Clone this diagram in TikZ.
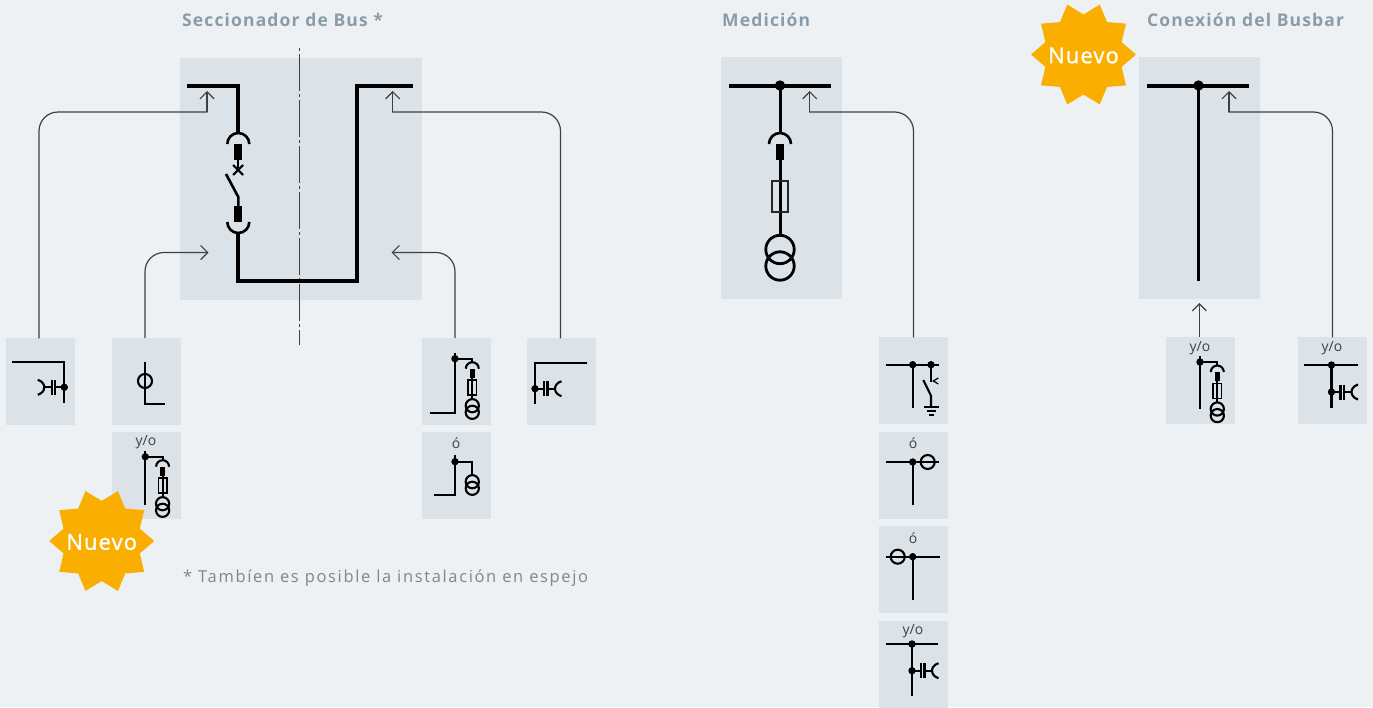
\documentclass[tikz,border=0pt]{standalone}
\usepackage{fontspec}
\setmainfont{Open Sans}
\usetikzlibrary{arrows.meta, shapes.geometric}
\definecolor{pagebg}{HTML}{EDF1F4}
\definecolor{panelbg}{HTML}{DBE2E8}
\definecolor{headcol}{HTML}{8B9CA9}
\definecolor{notecol}{HTML}{7D878F}
\definecolor{burstcol}{HTML}{FAAF00}
\tikzset{
  mainpanel/.style={fill=panelbg, minimum width=121, minimum height=242, inner sep=0},
  smallpanel/.style={fill=panelbg, minimum width=69, minimum height=87, inner sep=0},
  head/.style={anchor=west, inner sep=0, text=headcol, font=\fontsize{17.5}{18}\selectfont\bfseries\addfontfeatures{LetterSpace=6.5}},
  yolabel/.style={inner sep=0, text=black!75, font=\fontsize{14}{15}\selectfont},
  burst/.style={star, star points=10, star point ratio=1.31, shape border rotate=18,
    minimum size=105, inner sep=0, fill=burstcol},
  bursttext/.style={inner sep=0, text=white, font=\fontsize{22}{24}\selectfont\addfontfeatures{LetterSpace=5, FakeBold=1.2}},
  busline/.style={line width=4, line cap=butt, line join=miter},
  feeder/.style={line width=2.6},
  wire/.style={line width=2.1},
  axisline/.style={draw=black!75, line width=1.4, dash pattern=on 37pt off 3pt on 3pt off 3pt, dash phase=40pt},
  linkbody/.style={draw=black!75, line width=1.2, line cap=rect, rounded corners=19},
  link/.style={draw=black!75, line width=1.2, -{Straight Barb[length=7,width=14,line width=1.2]}},
  pics/plug/.style={code={
    \draw[feeder] (-11,11) arc[start angle=180, end angle=360, radius=11];
    \fill (-4,11) rectangle (4,27);
  }},
  pics/capbank/.style={code={
    \fill (0,0) circle (3.7);
    \draw[wire] (0,0) -- (9,0) (12,0) -- (20,0);
    \draw[wire] (9,-7.5) -- (9,7.5) (12.5,-7.5) -- (12.5,7.5);
    \draw[wire] (26.5,-7.5) .. controls (22,-6) and (20,-3) .. (20,0) .. controls (20,3) and (22,6) .. (26.5,7.5);
  }},
  pics/twocoil/.style={code={
    \draw[wire] (0,0) circle (6.6) (0,6.6) circle (6.6);
  }},
  pics/fusedvt/.style={code={
    \fill (0,0) circle (3.7);
    \draw[wire] (0,0) -- (17.3,0) -- (17.3,4);
    \draw[wire] (10.8,10) arc[start angle=180, end angle=360, radius=6.5];
    \fill (15,10) rectangle (19.6,19);
    \draw[wire] (17.3,19) -- (17.3,40);
    \draw[line width=1.5] (13,21.5) rectangle (21.6,36.5);
    \pic at (17.3,47) {twocoil};
  }}
}
\begin{document}
\begin{tikzpicture}[x=1pt, y=-1pt]
\useasboundingbox[fill=pagebg] (0,0) rectangle (1373,707);

\node[mainpanel, minimum width=242] (swpanel) at (301,179) {};
\node[mainpanel] (mepanel) at (781.5,178) {};
\node[mainpanel] (bbpanel) at (1199.5,178) {};

\node[smallpanel] (bsA) at (40.5,381.5) {};
\node[smallpanel] (bsB) at (146.5,381.5) {};
\node[smallpanel] (bsC) at (146.5,475.5) {};
\node[smallpanel] (bsD) at (456.5,381.5) {};
\node[smallpanel] (bsE) at (456.5,475.5) {};
\node[smallpanel] (bsF) at (561.5,381.5) {};
\node[smallpanel] (meA) at (913.5,380.5) {};
\node[smallpanel] (meB) at (913.5,475.5) {};
\node[smallpanel] (meC) at (913.5,569.5) {};
\node[smallpanel] (meD) at (913.5,664.5) {};
\node[smallpanel] (bbA) at (1200.5,380.5) {};
\node[smallpanel] (bbB) at (1332.5,380.5) {};

\node[head] (bshead) at (182,20) {Seccionador de Bus *};
\node[head] (mehead) at (722,20) {Medición};
\node[head] (bbhead) at (1147,20) {Conexión del Busbar};
\node[anchor=west, inner sep=0, text=notecol, font=\fontsize{16.5}{18}\selectfont\addfontfeatures{LetterSpace=10}] (bsnote) at (183,578) {* Tambíen es posible la instalación en espejo};

\node[yolabel] (yoC) at (146,442) {y/o};
\node[yolabel] (oE) at (456,443) {ó};
\node[yolabel] (oB) at (913,443) {ó};
\node[yolabel] (oC) at (913,538) {ó};
\node[yolabel] (yoD) at (913,631) {y/o};
\node[yolabel] (yoA) at (1200,348) {y/o};
\node[yolabel] (yoB) at (1332,348) {y/o};

\draw[axisline] (299.7,48) -- (299.7,345);

\draw[busline] (187,86) -- (238.3,86) -- (238.3,133);
\pic at (238.3,133) {plug};
\draw[wire] (238.3,160) -- (238.3,170);
\draw[wire] (233.2,165) -- (243.2,175) (243.2,165) -- (233.2,175);
\draw[feeder] (226,174) -- (238.3,197) -- (238.3,207);
\pic[yscale=-1] at (238.3,233) {plug};
\draw[busline] (238.3,232) -- (238.3,281) -- (357.3,281) -- (357.3,86) -- (412.7,86);

\draw[busline] (729,85.5) -- (831,85.5);
\fill (780,85.5) circle (5.2);
\draw[feeder, line width=3] (780,85.5) -- (780,133);
\pic at (780,133) {plug};
\draw[feeder, line width=3] (780,158) -- (780,234);
\draw[black!85, line width=1.9] (771.8,181) rectangle (788.2,212.3);
\draw[line width=2.8] (780,249.5) circle (14.2) (780,266) circle (14.2);

\draw[busline] (1147,85.5) -- (1249,85.5);
\fill (1198.5,85.5) circle (5.2);
\draw[feeder, line width=3.2] (1198.5,85.5) -- (1198.5,281);

\coordinate (tipA) at (207,91);
\coordinate (kneeA) at (207,112);
\coordinate (tipB) at (208.5,252.5);
\coordinate (tipD) at (391.5,252.5);
\coordinate (tipF) at (392.7,91);
\coordinate (kneeF) at (392.7,112);
\coordinate (tipM) at (809.7,91);
\coordinate (kneeM) at (809.7,112);
\coordinate (tipN) at (1229,91);
\coordinate (kneeN) at (1229,112);
\coordinate (tipO) at (1199.3,303);

\draw[linkbody] ([xshift=-1.5]bsA.north) |- (kneeA);
\draw[link] (kneeA) -- (tipA);
\draw[link, rounded corners=19] ([xshift=-1.5]bsB.north) |- (tipB);
\draw[link, rounded corners=19] ([xshift=-1.5]bsD.north) |- (tipD);
\draw[linkbody] ([xshift=-1]bsF.north) |- (kneeF);
\draw[link] (kneeF) -- (tipF);
\draw[linkbody] (meA.north) |- (kneeM);
\draw[link] (kneeM) -- (tipM);
\draw[linkbody] (bbB.north) |- (kneeN);
\draw[link] (kneeN) -- (tipN);
\draw[link] ([xshift=-1.2]bbA.north) -- (tipO);

\draw[wire] (12,362) -- (64.3,362) -- (64.3,402.7);
\pic[xscale=-1] at (64.3,387.3) {capbank};

\draw[wire] (145,361.7) -- (145,404) -- (165.3,404);
\draw[wire] (145,381) circle (7);

\draw[wire] (145.3,450.7) -- (145.3,504.7);
\pic at (145.3,456.7) {fusedvt};

\draw[wire] (455,352.7) -- (455,412.7) -- (430.3,412.7);
\pic at (455,358.7) {fusedvt};

\draw[wire] (455,454.7) -- (455,495) -- (434,495);
\fill (455,461.7) circle (3.7);
\draw[wire] (455,461.7) -- (472.3,461.7) -- (472.3,475);
\pic at (472.3,481.7) {twocoil};

\draw[wire] (587.3,363.3) -- (535,363.3) -- (535,404);
\pic at (535,388.7) {capbank};

\draw[wire] (886,364.7) -- (939.3,364.7) (912.7,364.7) -- (912.7,408.3) (931,364.7) -- (931,381.7);
\fill (912.7,364.7) circle (3.7) (931,364.7) circle (3.7);
\draw[wire] (923.3,380) -- (931,395.7) -- (931,406.7);
\draw[line width=1.2] (938.3,378) -- (933.3,381) -- (938.3,384);
\draw[wire] (924,406.7) -- (939.3,406.7);
\draw[line width=1.6] (927.3,410.7) -- (936,410.7) (929.3,414.7) -- (934,414.7);

\draw[wire] (886,462) -- (939.3,462) (912.7,462) -- (912.7,505.3);
\fill (912.7,462) circle (3.7);
\draw[wire] (927.7,462) circle (7);

\draw[wire] (886,556.7) -- (939.7,556.7) (912.7,556.7) -- (912.7,600);
\fill (912.7,556.7) circle (3.7);
\draw[wire] (897.7,556.7) circle (7);

\draw[wire] (886,644) -- (938.3,644) (912,644) -- (912,695.7);
\fill (912,644) circle (3.7);
\pic at (912,670.7) {capbank};

\draw[wire] (1200,356) -- (1200,409.3);
\pic at (1200,362) {fusedvt};

\draw[wire] (1304.3,365) -- (1357.7,365) (1331.5,365) -- (1331.5,408.3);
\fill (1331.5,365) circle (3.7);
\pic at (1331.5,392) {capbank};

\node[burst] (newA) at (101.7,541) {};
\node[bursttext] (newAtext) at (101.7,542) {Nuevo};
\node[burst] (newB) at (1083.5,54.5) {};
\node[bursttext] (newBtext) at (1083.5,55.5) {Nuevo};
\end{tikzpicture}
\end{document}
